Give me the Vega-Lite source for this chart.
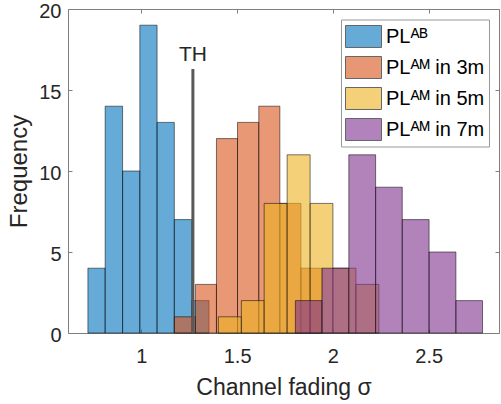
{
  "$schema": "https://vega.github.io/schema/vega-lite/v6.json",
  "width": 431,
  "height": 324,
  "autosize": "none",
  "padding": {"left": 68, "top": 9, "right": 2, "bottom": 71},
  "config": {
    "font": "Liberation Sans",
    "view": {"stroke": null},
    "axis": {"grid": false, "domainColor": "#7f7f7f", "tickColor": "#7f7f7f", "tickSize": -4, "labelColor": "#262626", "labelFontSize": 20, "titleColor": "#262626", "titleFontSize": 23, "titleFontWeight": "normal", "labelFont": "Liberation Sans", "titleFont": "Liberation Sans"}
  },
  "datasets": {
    "hist": [
      {"series": "PLᴬᴮ", "x0": 0.721, "x1": 0.811, "count": 4},
      {"series": "PLᴬᴮ", "x0": 0.811, "x1": 0.902, "count": 14},
      {"series": "PLᴬᴮ", "x0": 0.902, "x1": 0.992, "count": 10},
      {"series": "PLᴬᴮ", "x0": 0.992, "x1": 1.082, "count": 19},
      {"series": "PLᴬᴮ", "x0": 1.082, "x1": 1.172, "count": 13},
      {"series": "PLᴬᴮ", "x0": 1.172, "x1": 1.263, "count": 7},
      {"series": "PLᴬᴮ", "x0": 1.263, "x1": 1.353, "count": 2},
      {"series": "PLᴬᴹ in 3m", "x0": 1.172, "x1": 1.282, "count": 1},
      {"series": "PLᴬᴹ in 3m", "x0": 1.282, "x1": 1.392, "count": 3},
      {"series": "PLᴬᴹ in 3m", "x0": 1.392, "x1": 1.502, "count": 12},
      {"series": "PLᴬᴹ in 3m", "x0": 1.502, "x1": 1.613, "count": 13},
      {"series": "PLᴬᴹ in 3m", "x0": 1.613, "x1": 1.723, "count": 14},
      {"series": "PLᴬᴹ in 3m", "x0": 1.723, "x1": 1.833, "count": 8},
      {"series": "PLᴬᴹ in 3m", "x0": 1.833, "x1": 1.943, "count": 4},
      {"series": "PLᴬᴹ in 5m", "x0": 1.402, "x1": 1.522, "count": 1},
      {"series": "PLᴬᴹ in 5m", "x0": 1.522, "x1": 1.641, "count": 2},
      {"series": "PLᴬᴹ in 5m", "x0": 1.641, "x1": 1.761, "count": 8},
      {"series": "PLᴬᴹ in 5m", "x0": 1.761, "x1": 1.881, "count": 11},
      {"series": "PLᴬᴹ in 5m", "x0": 1.881, "x1": 2.000, "count": 8},
      {"series": "PLᴬᴹ in 5m", "x0": 2.000, "x1": 2.120, "count": 4},
      {"series": "PLᴬᴹ in 5m", "x0": 2.120, "x1": 2.240, "count": 3},
      {"series": "PLᴬᴹ in 7m", "x0": 1.804, "x1": 1.943, "count": 2},
      {"series": "PLᴬᴹ in 7m", "x0": 1.943, "x1": 2.083, "count": 4},
      {"series": "PLᴬᴹ in 7m", "x0": 2.083, "x1": 2.223, "count": 11},
      {"series": "PLᴬᴹ in 7m", "x0": 2.223, "x1": 2.362, "count": 9},
      {"series": "PLᴬᴹ in 7m", "x0": 2.362, "x1": 2.502, "count": 7},
      {"series": "PLᴬᴹ in 7m", "x0": 2.502, "x1": 2.642, "count": 5},
      {"series": "PLᴬᴹ in 7m", "x0": 2.642, "x1": 2.781, "count": 2}
    ],
    "th": [
      {"x": 1.269, "bottom": 0, "top": 16.3, "label": "TH"}
    ]
  },
  "layer": [
    {
      "data": {"name": "hist"},
      "mark": {"type": "rect", "fillOpacity": 0.6, "stroke": "#000", "strokeWidth": 0.8, "strokeOpacity": 0.65},
      "encoding": {
        "x": {"field": "x0", "type": "quantitative", "scale": {"domain": [0.617, 2.867], "nice": false, "zero": false},
              "axis": {"orient": "bottom", "values": [1, 1.5, 2, 2.5], "format": "~g", "title": "Channel fading σ", "labelPadding": 17, "titlePadding": 10}},
        "x2": {"field": "x1"},
        "y": {"field": "count", "type": "quantitative", "scale": {"domain": [0, 20], "nice": false},
              "axis": {"orient": "left", "values": [0, 5, 10, 15, 20], "title": "Frequency", "labelPadding": 11, "labelOffset": 2, "titlePadding": 7, "titleFontSize": 24}},
        "y2": {"datum": 0},
        "color": {"field": "series", "type": "nominal",
                  "scale": {"domain": ["PLᴬᴮ", "PLᴬᴹ in 3m", "PLᴬᴹ in 5m", "PLᴬᴹ in 7m"], "range": ["#0072BD", "#D95319", "#EDB120", "#7E2F8E"]},
                  "legend": {"title": null, "orient": "none", "legendX": 273, "legendY": 10.5, "strokeColor": "#999", "fillColor": "#fff", "padding": 4,
                             "symbolType": "M-1,-0.611H1V0.611H-1Z", "symbolSize": 1296, "symbolOpacity": 0.6, "symbolStrokeColor": "#000", "symbolStrokeWidth": 1,
                             "clipHeight": 26,
                             "labelFontSize": 20, "labelColor": "#000", "labelFont": "Liberation Sans", "labelOffset": 4, "rowPadding": 5}}
      }
    },
    {
      "data": {"name": "th"},
      "mark": {"type": "rule", "color": "#595959", "strokeWidth": 3},
      "encoding": {
        "x": {"field": "x", "type": "quantitative", "axis": {"orient": "top", "values": [1, 1.5, 2, 2.5], "labels": false, "title": null}},
        "y": {"field": "bottom", "type": "quantitative", "axis": {"orient": "right", "values": [0, 5, 10, 15, 20], "labels": false, "title": null}},
        "y2": {"field": "top"}
      }
    },
    {
      "data": {"name": "th"},
      "mark": {"type": "text", "fontSize": 21, "color": "#262626", "baseline": "alphabetic", "dy": -7.6, "font": "Liberation Sans"},
      "encoding": {
        "x": {"field": "x", "type": "quantitative", "axis": null},
        "y": {"field": "top", "type": "quantitative", "axis": null},
        "text": {"field": "label"}
      }
    }
  ],
  "resolve": {"axis": {"x": "independent", "y": "independent"}}
}
